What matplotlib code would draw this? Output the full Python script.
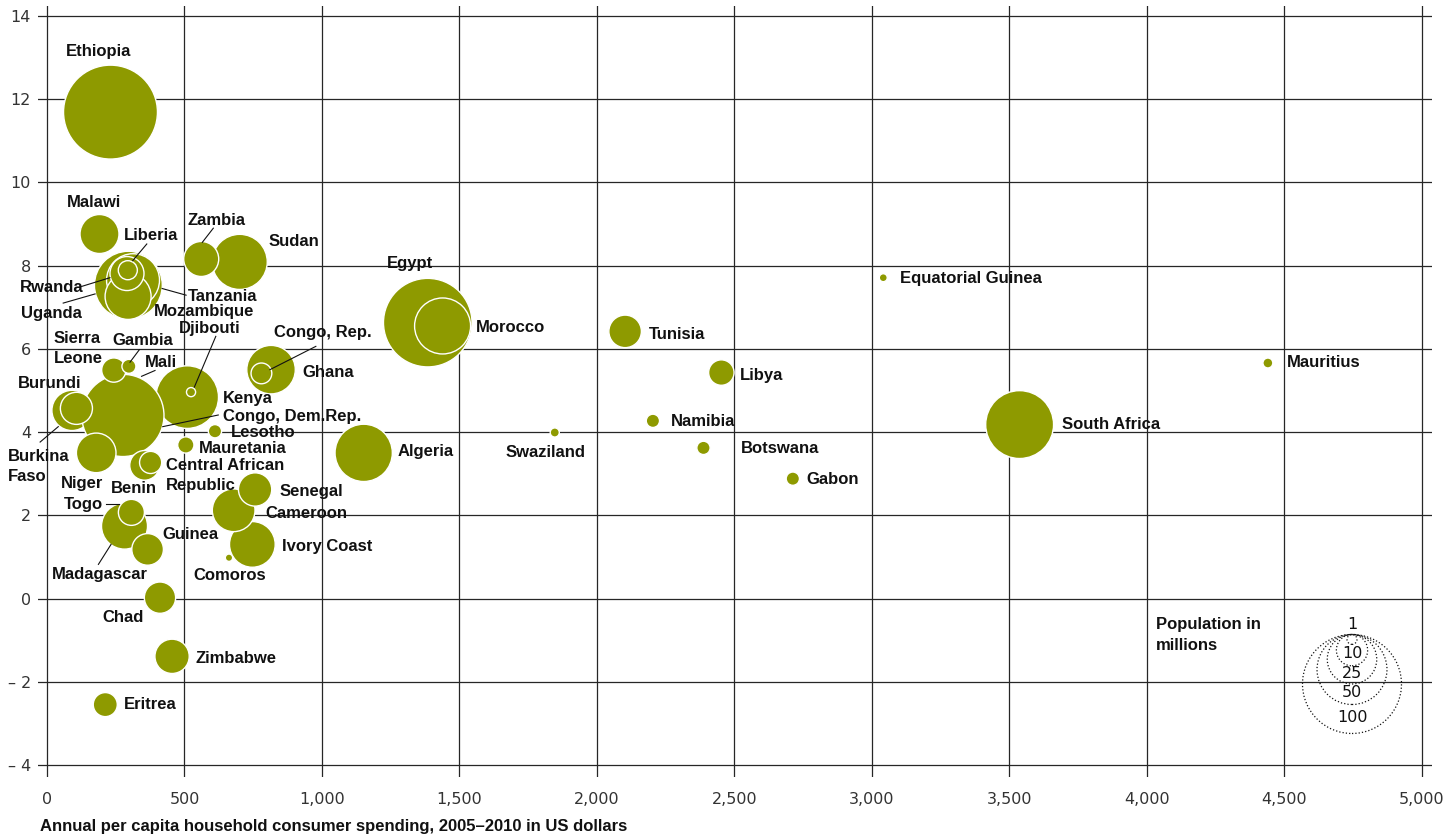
import numpy as np
import matplotlib.pyplot as plt

# Africa: consumer spending vs GDP growth, bubble = population (millions)
countries = [
    "Ethiopia", "Egypt", "Tanzania", "South Africa", "Kenya", "Mali", "Burkina Faso",
    "Congo, Dem.Rep.", "Algeria", "Morocco", "Sudan", "Uganda", "Ghana", "Madagascar",
    "Mozambique", "Ivory Coast", "Cameroon", "Niger", "Malawi", "Zambia", "Zimbabwe",
    "Rwanda", "Senegal", "Tunisia", "Burundi", "Guinea", "Chad", "Benin", "Togo", "Libya",
    "Sierra Leone", "Eritrea", "Central African Republic", "Congo, Rep.", "Liberia",
    "Mauretania", "Gambia", "Namibia", "Botswana", "Gabon", "Lesotho", "Mauritius",
    "Swaziland", "Djibouti", "Equatorial Guinea", "Comoros",
]
spending = [
    231, 1385, 296, 3538, 510, 320, 91,
    276, 1152, 1439, 701, 313, 815, 282,
    295, 747, 679, 179, 191, 561, 455,
    291, 757, 2103, 107, 366, 411, 355, 307, 2453,
    243, 212, 377, 780, 294,
    505, 298, 2204, 2388, 2713, 611, 4441,
    1847, 524, 3042, 662,
]
growth = [
    11.69, 6.63, 7.53, 4.18, 4.84, 4.80, 4.52,
    4.40, 3.50, 6.55, 8.09, 7.65, 5.50, 1.74,
    7.26, 1.30, 2.12, 3.50, 8.76, 8.16, -1.39,
    7.81, 2.62, 6.42, 4.57, 1.18, 0.02, 3.20, 2.07, 5.43,
    5.49, -2.55, 3.27, 5.41, 7.89,
    3.69, 5.58, 4.27, 3.62, 2.88, 4.02, 5.66,
    3.99, 4.96, 7.71, 0.98,
]
population = [
    90, 80, 47, 47, 40, 15, 16.5,
    69, 33.5, 32, 31, 28.6, 24, 21.6,
    21.6, 21.3, 18.6, 16, 15.5, 12.5, 12,
    11.8, 11.3, 10.8, 10.5, 10.2, 10, 9, 6.9, 6.6,
    6.0, 5.9, 5.0, 4.4, 3.7,
    2.7, 2.0, 1.8, 1.8, 1.8, 1.8, 1.0,
    0.85, 0.85, 0.65, 0.55,
]

x_ticks = [0, 500, 1000, 1500, 2000, 2500, 3000, 3500, 4000, 4500, 5000]
y_ticks = [-4, -2, 0, 2, 4, 6, 8, 10, 12, 14]
y_tick_labels = ["\u2013 4", "\u2013 2", "0", "2", "4", "6", "8", "10", "12", "14"]

legend_pops = [100, 50, 25, 10, 1]
legend_label_y = [-2.86, -2.26, -1.80, -1.32, -0.625]

# label placement: (text, x, y, ha)
labels = [
    ("Ethiopia", 187, 13.15, "center"),
    ("Malawi", 171, 9.52, "center"),
    ("Liberia", 280, 8.72, "left"),
    ("Zambia", 618, 9.08, "center"),
    ("Sudan", 805, 8.59, "left"),
    ("Rwanda", 131, 7.48, "right"),
    ("Uganda", 126, 6.86, "right"),
    ("Tanzania", 513, 7.27, "left"),
    ("Mozambique", 389, 6.90, "left"),
    ("Djibouti", 591, 6.50, "center"),
    ("Egypt", 1320, 8.05, "center"),
    ("Morocco", 1561, 6.51, "left"),
    ("Congo, Rep.", 1004, 6.40, "center"),
    ("Ghana", 928, 5.44, "left"),
    ("Sierra", 25, 6.24, "left"),
    ("Leone", 25, 5.76, "left"),
    ("Gambia", 350, 6.20, "center"),
    ("Mali", 357, 5.68, "left"),
    ("Burundi", 9, 5.17, "center"),
    ("Burkina", -141, 3.41, "left"),
    ("Faso", -141, 2.93, "left"),
    ("Kenya", 640, 4.80, "left"),
    ("Congo, Dem.Rep.", 641, 4.38, "left"),
    ("Lesotho", 669, 4.00, "left"),
    ("Mauretania", 554, 3.60, "left"),
    ("Central African", 432, 3.20, "left"),
    ("Republic", 432, 2.72, "left"),
    ("Niger", 127, 2.76, "center"),
    ("Benin", 316, 2.64, "center"),
    ("Togo", 205, 2.26, "right"),
    ("Guinea", 421, 1.55, "left"),
    ("Madagascar", 194, 0.58, "center"),
    ("Senegal", 845, 2.58, "left"),
    ("Cameroon", 796, 2.04, "left"),
    ("Ivory Coast", 854, 1.26, "left"),
    ("Comoros", 666, 0.55, "center"),
    ("Chad", 276, -0.45, "center"),
    ("Zimbabwe", 542, -1.43, "left"),
    ("Eritrea", 281, -2.55, "left"),
    ("Algeria", 1277, 3.53, "left"),
    ("Tunisia", 2190, 6.34, "left"),
    ("Libya", 2521, 5.36, "left"),
    ("Namibia", 2270, 4.25, "left"),
    ("Swaziland", 1815, 3.51, "center"),
    ("Botswana", 2525, 3.60, "left"),
    ("Gabon", 2761, 2.86, "left"),
    ("Equatorial Guinea", 3103, 7.69, "left"),
    ("Mauritius", 4511, 5.67, "left"),
    ("South Africa", 3692, 4.18, "left"),
    ("Population in", 4034, -0.625, "left"),
    ("millions", 4034, -1.13, "left"),
]

leaders = [
    ((363, 8.52), (312, 8.12)),   # Liberia
    ((605, 8.90), (565, 8.56)),   # Zambia
    ((126, 7.50), (229, 7.71)),   # Rwanda
    ((59, 7.10), (175, 7.32)),    # Uganda
    ((419, 7.45), (506, 7.29)),   # Tanzania
    ((614, 6.30), (536, 5.08)),   # Djibouti
    ((978, 6.06), (811, 5.50)),   # Congo, Rep.
    ((336, 5.98), (302, 5.68)),   # Gambia
    ((393, 5.48), (344, 5.34)),   # Mali
    ((-25, 3.76), (41, 4.13)),    # Burkina Faso
    ((623, 4.41), (421, 4.13)),   # Congo, Dem.Rep.
    ((215, 2.26), (262, 2.26)),   # Togo
    ((187, 0.82), (233, 1.30)),   # Madagascar
]

OLIVE = "#8e9a00"
LABEL_FONT = dict(family="Liberation Sans", fontweight="bold", fontsize=12, color="#111111")
TICK_FONT = dict(family="DejaVu Sans", fontsize=11.5, color="#333333")
SIZE_PER_MILLION = 50.8  # points^2 per million people

fig = plt.figure(figsize=(14.49, 8.36), dpi=100)
ax = fig.add_axes([38 / 1449, 59 / 836, 1394 / 1449, 771 / 836])
ax.set_xlim(-32.7, 5038)
ax.set_ylim(-4.29, 14.24)

ax.set_xticks(x_ticks)
ax.set_xticklabels([f"{v:,}" for v in x_ticks], **TICK_FONT)
ax.set_yticks(y_ticks)
ax.set_yticklabels(y_tick_labels, **TICK_FONT)
ax.tick_params(length=0)
ax.tick_params(axis="x", pad=11)
ax.tick_params(axis="y", pad=5)
ax.grid(True, color="#262626", lw=0.9)
ax.set_axisbelow(True)
for sp in ax.spines.values():
    sp.set_visible(False)

sizes = np.array(population) * SIZE_PER_MILLION
ax.scatter(spending, growth, s=sizes, color=OLIVE, edgecolors="white",
           linewidths=1.0, zorder=3, clip_on=False)

for (x0, y0), (x1, y1) in leaders:
    ax.plot([x0, x1], [y0, y1], color="#111111", lw=0.8, zorder=4, clip_on=False)

for text, x, y, ha in labels:
    ax.text(x, y, text, ha=ha, va="center", zorder=5, clip_on=False, **LABEL_FONT)

# population legend: dotted circles sharing a top edge
fig.canvas.draw()
ppu = ax.transData.transform((0, 1))[1] - ax.transData.transform((0, 0))[1]
legend_x = 4747
legend_top = -0.865
for p in legend_pops:
    s = p * SIZE_PER_MILLION
    r_px = np.sqrt(s) * 100 / 72 / 2
    ax.scatter([legend_x], [legend_top - r_px / ppu], s=s, facecolors="none",
               edgecolors="#111111", linewidths=0.9, linestyles=":", zorder=4)
for p, ly in zip(legend_pops, legend_label_y):
    ax.text(legend_x, ly, str(p), ha="center", va="center", zorder=5,
            family="DejaVu Sans", fontsize=11.5, color="#111111")

fig.text(40 / 1449, 10 / 836, "Annual per capita household consumer spending, 2005\u20132010 in US dollars",
         ha="left", va="center", **LABEL_FONT)

fig.savefig("out.png", dpi=100)
